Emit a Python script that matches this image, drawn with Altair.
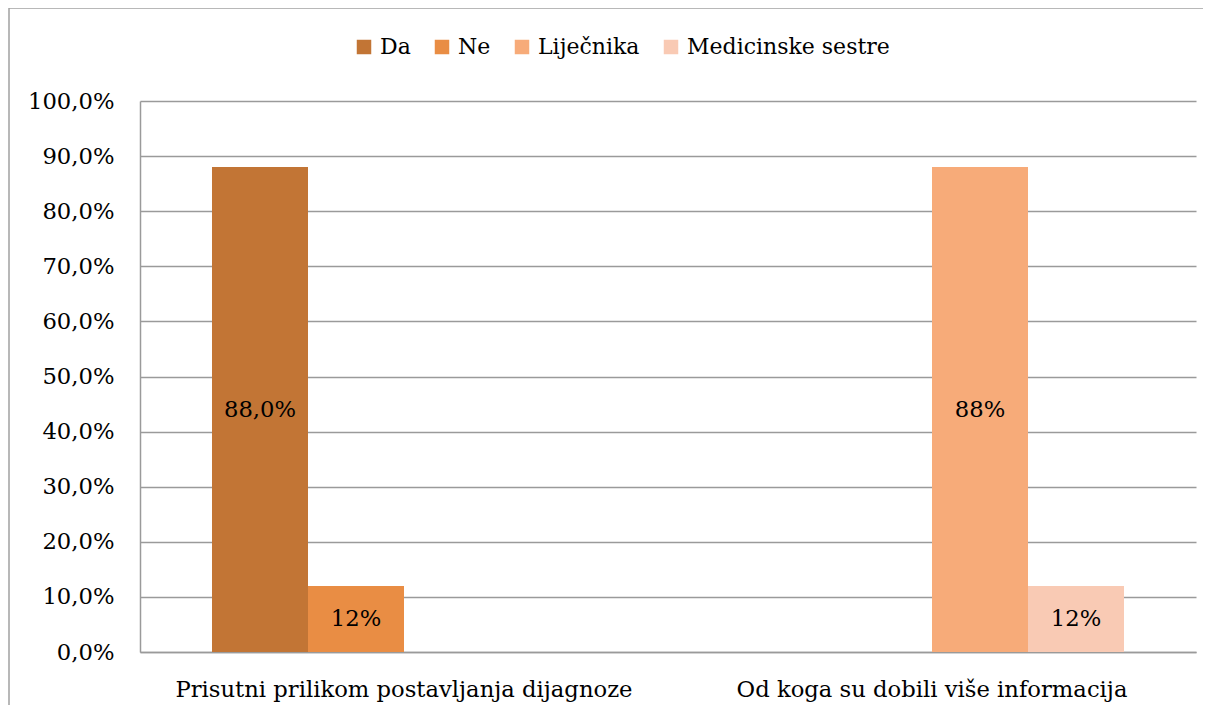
import altair as alt
import pandas as pd

categories = ["Prisutni prilikom postavljanja dijagnoze", "Prisutni prilikom postavljanja dijagnoze",
              "Od koga su dobili više informacija", "Od koga su dobili više informacija"]
series = ["Da", "Ne", "Liječnika", "Medicinske sestre"]
values = [88.0, 12.0, 88.0, 12.0]
labels = ["88,0%", "12%", "88%", "12%"]
colors = ["#C27535", "#E98D44", "#F7AB79", "#F9CAB4"]
cat_order = ["Prisutni prilikom postavljanja dijagnoze", "Od koga su dobili više informacija"]
y_ticks = [0, 10, 20, 30, 40, 50, 60, 70, 80, 90, 100]

df = pd.DataFrame({"cat": categories, "series": series, "value": values, "label": labels})

FONT = "DejaVu Serif"
GRID = "#9a9a9a"
FS = 22.7

base = alt.Chart(df)

x_enc = alt.X("cat:N", sort=cat_order, title=None,
              scale=alt.Scale(paddingInner=0.2727, paddingOuter=0.13636),
              axis=alt.Axis(labelAngle=0, ticks=False, labelFont=FONT, labelFontSize=FS,
                            labelColor="black", labelPadding=26, labelLimit=0, domainColor=GRID,
                            domainWidth=1.5, grid=False))
xo_enc = alt.XOffset("series:N", sort=series, scale=alt.Scale(domain=series, paddingInner=0, paddingOuter=0))

bars = base.mark_bar().encode(
    x=x_enc,
    xOffset=xo_enc,
    y=alt.Y("value:Q", title=None,
            scale=alt.Scale(domain=[0, 100], nice=False),
            axis=alt.Axis(values=y_ticks, ticks=False, labelFont=FONT, labelFontSize=FS,
                          labelColor="black", labelPadding=26, domainColor=GRID, domainWidth=1.5,
                          gridColor=GRID, gridWidth=1.5, gridOpacity=1,
                          labelExpr="replace(format(datum.value, '.1f'), '.', ',') + '%'")),
    color=alt.Color("series:N", sort=series,
                    scale=alt.Scale(domain=series, range=colors),
                    legend=alt.Legend(title=None, orient="none", direction="horizontal",
                                      legendX=213, legendY=-65, symbolType="square",
                                      symbolSize=210, symbolStrokeWidth=0, labelFont=FONT,
                                      labelFontSize=22, labelColor="black", labelOffset=5,
                                      labelLimit=0, columnPadding=20)),
)

text = base.transform_calculate(mid="datum.value / 2").mark_text(
    font=FONT, fontSize=FS, color="black", baseline="middle", align="center"
).encode(
    x=alt.X("cat:N", sort=cat_order),
    xOffset=alt.XOffset("series:N", sort=series),
    y=alt.Y("mid:Q"),
    text="label:N",
)

frame = alt.Data(values=[{}])
border_left = alt.Chart(frame).mark_rule(color="#a0a0a0", strokeWidth=1.5).encode(
    x=alt.value(-131), y=alt.value(-93), y2=alt.value(604)
)
border_top = alt.Chart(frame).mark_rule(color="#a0a0a0", strokeWidth=1.5).encode(
    x=alt.value(-131), x2=alt.value(1063), y=alt.value(-93)
)

chart = alt.layer(border_left, border_top, bars, text).properties(
    width=1056, height=551,
    padding={"left": 132, "top": 93, "right": 7, "bottom": 53},
    autosize=alt.AutoSizeParams(type="none"),
    background="white",
).configure_view(stroke="transparent")

chart.save("out.html", embed_options={"renderer": "svg", "actions": False})
